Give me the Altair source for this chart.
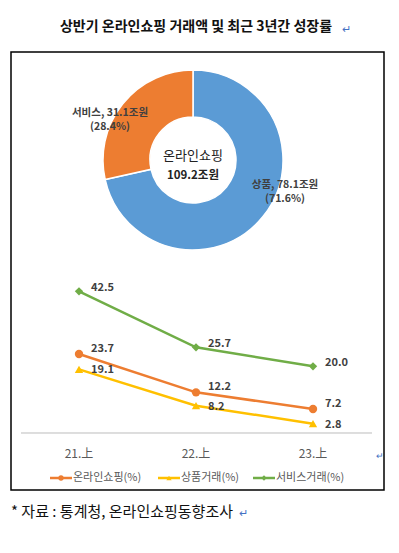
import altair as alt
import pandas as pd

# ---------------- data ----------------
title_text = "상반기 온라인쇼핑 거래액 및 최근 3년간 성장률"
source_text = "* 자료 : 통계청, 온라인쇼핑동향조사"

pie_parts = ["상품", "서비스"]
pie_values = [78.1, 31.1]          # 조원
pie_shares = [71.6, 28.4]          # %
pie_colors = ["#5B9BD5", "#ED7D31"]
center_name = "온라인쇼핑"
center_total = 109.2

periods = ["21.上", "22.上", "23.上"]
series = ["온라인쇼핑", "상품거래", "서비스거래"]
online = [23.7, 12.2, 7.2]
goods = [19.1, 8.2, 2.8]
service = [42.5, 25.7, 20.0]
series_colors = ["#ED7D31", "#FFC000", "#70AD47"]
series_shapes = ["circle", "triangle-up", "diamond"]

FONT = "Noto Sans CJK KR"

# ---------------- tables ----------------
pie_df = pd.DataFrame({"key": pie_parts, "value": pie_values, "idx": [0, 1]})

rows = []
for name, vals in zip(series, [online, goods, service]):
    for p, v in zip(periods, vals):
        rows.append({"key": name, "period": p, "value": v})
line_df = pd.DataFrame(rows)
per_df = pd.DataFrame({"period": periods, "value": [0] * len(periods)})

# ---------------- scales ----------------
x_enc = alt.X("period:N", sort=periods,
              scale=alt.Scale(type="point", domain=periods, range=[71, 305], padding=0),
              axis=None)
y_enc = alt.Y("value:Q", scale=alt.Scale(domain=[0, 45], range=[425, 275], nice=False, zero=True),
              axis=None)
# one shared colour scale for the donut parts and the line series
col_enc = alt.Color("key:N", scale=alt.Scale(domain=pie_parts + series,
                                             range=pie_colors + series_colors), legend=None)
shp_enc = alt.Shape("key:N", scale=alt.Scale(domain=series, range=series_shapes), legend=None)


def text_at(txt, x, y, size=10.5, weight="bold", color="#404040", align="center"):
    return alt.Chart(pd.DataFrame({"t": [txt]})).mark_text(
        font=FONT, fontSize=size, fontWeight=weight, color=color, align=align, baseline="middle").encode(
        text="t:N", x=alt.value(x), y=alt.value(y))


# ---------------- decorations ----------------
box = alt.Chart(pd.DataFrame({"a": [0]})).mark_rect(fillOpacity=0, stroke="black", strokeWidth=1.5).encode(
    x=alt.value(3), x2=alt.value(376), y=alt.value(44), y2=alt.value(482))

title = text_at(title_text, 188, 19, size=14, weight="bold", color="#111111")
title_mark = text_at("↵", 334, 22, size=11, weight="normal", color="#4472C4", align="left")
footnote = text_at(source_text, 3, 504, size=15, weight="normal", color="#111111", align="left")
foot_mark = text_at("↵", 231, 506, size=11, weight="normal", color="#4472C4", align="left")
axis_mark = text_at("↵", 372, 448, size=9, weight="normal", color="#4472C4")

# ---------------- donut ----------------
pie = alt.Chart(pie_df).mark_arc(outerRadius=90, innerRadius=43, stroke="white", strokeWidth=1.5).encode(
    theta=alt.Theta("value:Q"),
    color=col_enc,
    order=alt.Order("idx:Q"),
    x=alt.value(185), y=alt.value(152),
)

pie_labels = [
    text_at(f"{pie_parts[1]}, {pie_values[1]}조원", 102, 105),
    text_at(f"({pie_shares[1]}%)", 102, 119),
    text_at(f"{pie_parts[0]}, {pie_values[0]}조원", 277, 177),
    text_at(f"({pie_shares[0]}%)", 277, 191),
    text_at(center_name, 185, 148, size=13, weight="normal", color="#222222"),
    text_at(f"{center_total}조원", 185, 168, size=11.5, weight="bold", color="#222222"),
]

# ---------------- lines ----------------
base = alt.Chart(line_df)
lines = base.mark_line(strokeWidth=2.5).encode(x=x_enc, y=y_enc, color=col_enc, detail="key:N")
points = base.mark_point(filled=True, opacity=1, size=70).encode(
    x=x_enc, y=y_enc, color=col_enc, shape=shp_enc)

label_dy = {"온라인쇼핑": -5, "상품거래": 1, "서비스거래": -3}
vlabels = [
    base.transform_filter(alt.datum.key == s).mark_text(
        font=FONT, fontSize=11, fontWeight="bold", color="#404040",
        align="left", baseline="middle", dx=12, dy=label_dy[s]).encode(
        x=x_enc, y=y_enc, text=alt.Text("value:Q", format=".1f"))
    for s in series
]

baseline = alt.Chart(per_df).mark_rule(color="#D9D9D9", strokeWidth=1).encode(
    y=y_enc, x=alt.value(13), x2=alt.value(364))
xlabels = alt.Chart(per_df).mark_text(font=FONT, fontSize=12, color="#595959",
                                      baseline="middle", dy=21).encode(
    x=x_enc, y=y_enc, text="period:N")

# ---------------- legend ----------------
leg_x = [53, 161, 256]
legend_layers = []
for s, lxp in zip(series, leg_x):
    d = pd.DataFrame({"key": [s], "label": [s + "(%)"]})
    legend_layers.append(alt.Chart(d).mark_rule(strokeWidth=2.5).encode(
        x=alt.value(lxp - 11), x2=alt.value(lxp + 11), y=alt.value(470), color=col_enc))
    legend_layers.append(alt.Chart(d).mark_point(filled=True, opacity=1, size=28).encode(
        x=alt.value(lxp), y=alt.value(470), color=col_enc, shape=shp_enc))
    legend_layers.append(alt.Chart(d).mark_text(font=FONT, fontSize=11, color="#595959",
                                                align="left", baseline="middle", dx=12).encode(
        x=alt.value(lxp), y=alt.value(470), text="label:N"))

chart = alt.layer(
    box, title, title_mark, pie, *pie_labels,
    baseline, xlabels, axis_mark, lines, points, *vlabels,
    *legend_layers, footnote, foot_mark,
).properties(
    width=383, height=537, padding=0, autosize="none"
).configure_view(stroke=None)

chart.save("out.html", embed_options={"renderer": "svg", "actions": False})
